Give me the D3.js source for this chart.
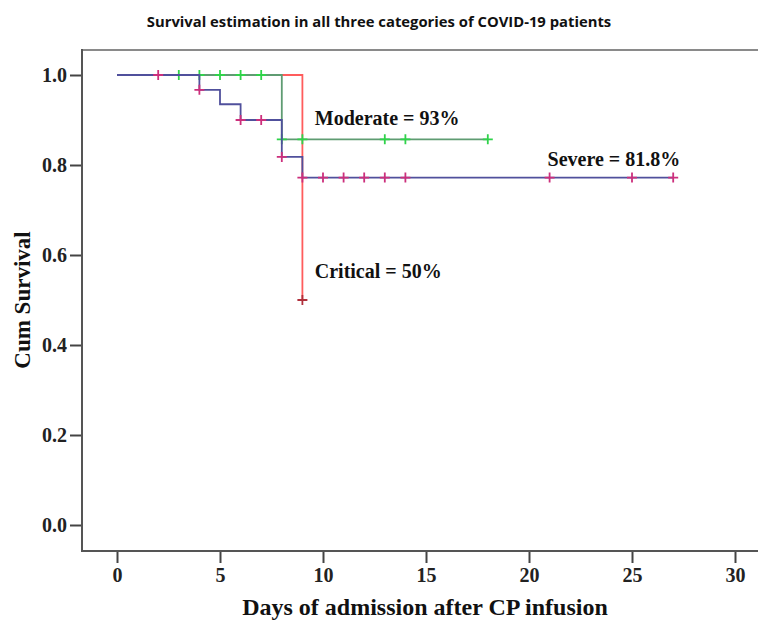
<!DOCTYPE html>
<html>
<head>
    <meta charset="utf-8">
    <title>Survival estimation</title>
    <script src="https://d3js.org/d3.v7.min.js"></script>
    <style>
        body { margin: 0; background: #fff; }
        .tick text { font-family: "Liberation Serif", "DejaVu Serif", serif; font-weight: bold; font-size: 20px; fill: #222; }
        .tick line { stroke: #444; stroke-width: 2; }
    </style>
</head>

<body>
<div id="chart"></div>
<script type="text/javascript">

    // step points (time, cumulative survival) and censored times per group
    let severeTimes = [0, 4, 5, 6, 8, 9, 27];
    let severeSurv = [1, 0.967, 0.935, 0.9, 0.818, 0.772, 0.772];
    let severeCensor = [2, 4, 6, 7, 8, 9, 10, 11, 12, 13, 14, 21, 25, 27];

    let moderateTimes = [0, 8, 18];
    let moderateSurv = [1, 0.857, 0.857];
    let moderateCensor = [3, 4, 5, 6, 7, 8, 9, 13, 14, 18];

    let criticalTimes = [0, 9];
    let criticalSurv = [1, 0.5];
    let criticalCensor = [9];

    let xTicks = [0, 5, 10, 15, 20, 25, 30];
    let yTicks = [0, 0.2, 0.4, 0.6, 0.8, 1.0];

    let w = 758, h = 620;

    let svg = d3.select("#chart")
        .append("svg")
            .attr("width", w)
            .attr("height", h);

    let xScale = d3.scaleLinear().domain([0, 30]).range([117, 735]);
    let yScale = d3.scaleLinear().domain([0, 1]).range([525, 75]);

    let frame = {left: 82, top: 50, right: 758, bottom: 551};

    // title
    svg.append("text")
        .attr("x", 379)
        .attr("y", 27)
        .attr("text-anchor", "middle")
        .attr("font-family", "'Open Sans', sans-serif")
        .attr("font-weight", "bold")
        .attr("font-size", "14.8px")
        .attr("fill", "#111")
        .text("Survival estimation in all three categories of COVID-19 patients");

    // frame top border
    svg.append("line")
        .attr("x1", frame.left).attr("x2", frame.right)
        .attr("y1", frame.top).attr("y2", frame.top)
        .attr("stroke", "#8a8a8a").attr("stroke-width", 2);

    let yAxis = d3.axisLeft(yScale)
        .tickValues(yTicks)
        .tickFormat(d3.format(".1f"))
        .tickSize(12)
        .tickPadding(3);

    svg.append("g")
        .attr("transform", "translate(" + frame.left + ",0)")
        .call(yAxis)
        .call(g => g.select(".domain").remove());

    let xAxis = d3.axisBottom(xScale)
        .tickValues(xTicks)
        .tickSize(12)
        .tickPadding(5);

    svg.append("g")
        .attr("transform", "translate(0," + frame.bottom + ")")
        .call(xAxis)
        .call(g => g.select(".domain").remove());

    // axis lines
    svg.append("path")
        .attr("d", "M" + frame.left + "," + (frame.top - 1) + "V" + frame.bottom + "H" + frame.right)
        .attr("fill", "none")
        .attr("stroke", "#555")
        .attr("stroke-width", 2);

    // axis titles
    svg.append("text")
        .attr("x", 425)
        .attr("y", 615)
        .attr("text-anchor", "middle")
        .attr("font-family", "'Liberation Serif', serif")
        .attr("font-weight", "bold")
        .attr("font-size", "24px")
        .attr("fill", "#111")
        .text("Days of admission after CP infusion");

    svg.append("text")
        .attr("transform", "translate(30,300) rotate(-90)")
        .attr("text-anchor", "middle")
        .attr("font-family", "'Liberation Serif', serif")
        .attr("font-weight", "bold")
        .attr("font-size", "23px")
        .attr("fill", "#111")
        .text("Cum Survival");

    let stepLine = d3.line()
        .x(d => xScale(d[0]))
        .y(d => yScale(d[1]))
        .curve(d3.curveStepAfter);

    function survAt(times, surv, t) {
        let s = surv[0];
        for (let i = 0; i < times.length; i++) if (times[i] <= t) s = surv[i];
        return s;
    }

    let groups = [
        {times: criticalTimes, surv: criticalSurv, censor: criticalCensor, line: "#ff5c5c", mark: "#b0303c"},
        {times: moderateTimes, surv: moderateSurv, censor: moderateCensor, line: "#5f9c72", mark: "#2fd34a"},
        {times: severeTimes, surv: severeSurv, censor: severeCensor, line: "#50509c", mark: "#cc2f7c"}
    ];

    groups.forEach(function(g) {
        let pts = g.times.map((t, i) => [t, g.surv[i]]);
        svg.append("path")
            .datum(pts)
            .attr("d", stepLine)
            .attr("fill", "none")
            .attr("stroke", g.line)
            .attr("stroke-width", 1.8);

        svg.append("g").selectAll("path")
            .data(g.censor)
            .enter()
            .append("path")
            .attr("d", function(t) {
                let x = xScale(t), y = yScale(survAt(g.times, g.surv, t));
                return "M" + (x - 5) + "," + y + "H" + (x + 5) + "M" + x + "," + (y - 5) + "V" + (y + 5);
            })
            .attr("stroke", g.mark)
            .attr("stroke-width", 1.8);
    });

    // group labels
    let labels = [
        {text: "Moderate = 93%", t: 9.6, s: 0.89},
        {text: "Severe = 81.8%", t: 20.9, s: 0.798},
        {text: "Critical = 50%", t: 9.6, s: 0.55}
    ];

    svg.append("g").selectAll("text")
        .data(labels)
        .enter()
        .append("text")
        .attr("x", d => xScale(d.t))
        .attr("y", d => yScale(d.s))
        .attr("font-family", "'Liberation Serif', serif")
        .attr("font-weight", "bold")
        .attr("font-size", "20px")
        .attr("fill", "#111")
        .text(d => d.text);

</script>
</body>
</html>
